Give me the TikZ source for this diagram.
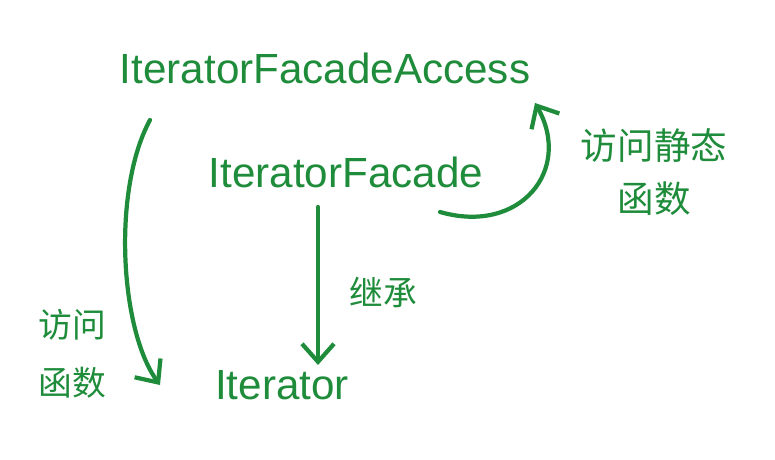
\documentclass[tikz,border=0pt]{standalone}
\usepackage{fontspec}
\setmainfont{Liberation Sans}
\newfontfamily\cjk{Noto Sans CJK SC}
\usepackage{tikz}
\usetikzlibrary{arrows.meta, calc}

\begin{document}
\begin{tikzpicture}[
  execute at begin picture={
    \definecolor{handgreen}{RGB}{30,140,58}
  },
  classname/.style={
    text=handgreen,
    inner sep=1pt,
    font=\fontsize{30}{36}\selectfont
  },
  note/.style={
    text=handgreen,
    align=center,
    inner sep=1pt,
    font=\cjk\fontsize{24}{38}\selectfont
  },
  arrow/.style={
    draw=handgreen,
    line width=3pt,
    line cap=round,
    line join=round,
    -{Straight Barb[length=4.5mm, width=8mm, line width=3pt]}
  }
]
\useasboundingbox (0,0) rectangle (19.375,11.5);

\node[classname] (access) at (8.125,9.8) {IteratorFacadeAccess};
\node[classname] (facade) at (8.65,7.2) {IteratorFacade};
\node[classname] (iter) at (7.05,1.875) {Iterator};

\node[note, font=\cjk\fontsize{26}{38}\selectfont] (callstatic) at (16.35,7.2) {访问静态\\函数};
\node[note] (inherit) at (9.575,4.2) {继承};
\node[note, font=\cjk\fontsize{24}{41}\selectfont] (callfunc) at (1.8,2.65) {访问\\函数};

\draw[arrow] ([xshift=-4.375cm,yshift=-1.3cm]access.center)
  .. controls +(-0.95,-1.75) and +(-1.0,1.375) ..
  ([xshift=-3.05cm]iter.center);
\draw[arrow] ([xshift=-0.7cm,yshift=-0.875cm]facade.center) --
  ([xshift=-0.7cm,yshift=0.5cm]iter.center -| facade.center);
\draw[arrow] ([xshift=2.35cm,yshift=-1.0cm]facade.center)
  .. controls +(2.0,-0.575) and +(0.95,-1.675) ..
  ([xshift=5.25cm,yshift=-0.875cm]access.center);

\end{tikzpicture}
\end{document}
